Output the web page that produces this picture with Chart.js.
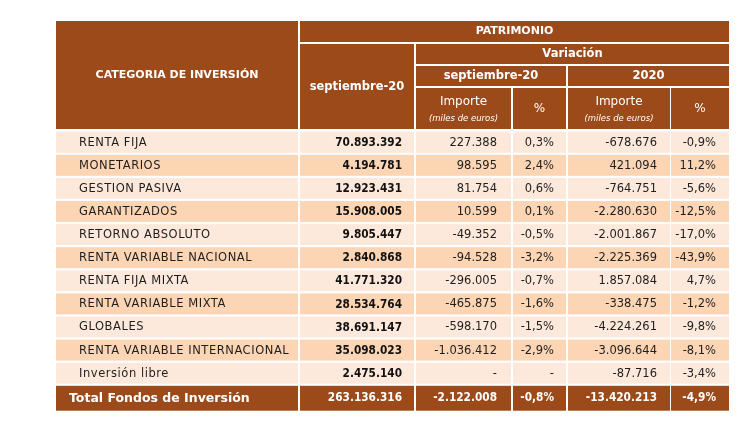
<!DOCTYPE html>
<html>
<head>
<meta charset="utf-8">
<script src="https://cdn.jsdelivr.net/npm/chart.js@4/dist/chart.umd.min.js"></script>
<style>
  html, body { margin: 0; padding: 0; background: #fff; }
  #wrap { width: 753px; height: 428px; }
</style>
</head>
<body>
<div id="wrap"><canvas id="tabla"></canvas></div>
<script>
// datos de la tabla
const categorias = [
    "RENTA FIJA",
    "MONETARIOS",
    "GESTION PASIVA",
    "GARANTIZADOS",
    "RETORNO ABSOLUTO",
    "RENTA VARIABLE NACIONAL",
    "RENTA FIJA MIXTA",
    "RENTA VARIABLE MIXTA",
    "GLOBALES",
    "RENTA VARIABLE INTERNACIONAL",
    "Inversión libre",
];
const patrimonio = [70893392, 4194781, 12923431, 15908005, 9805447, 2840868, 41771320, 28534764, 38691147, 35098023, 2475140];
const varSepImporte = [227388, 98595, 81754, 10599, -49352, -94528, -296005, -465875, -598170, -1036412, null];
const varSepPct = [0.3, 2.4, 0.6, 0.1, -0.5, -3.2, -0.7, -1.6, -1.5, -2.9, null];
const var2020Importe = [-678676, 421094, -764751, -2280630, -2001867, -2225369, 1857084, -338475, -4224261, -3096644, -87716];
const var2020Pct = [-0.9, 11.2, -5.6, -12.5, -17.0, -43.9, 4.7, -1.2, -9.8, -8.1, -3.4];
const totalLabel = "Total Fondos de Inversión";
const totales = [263136316, -2122008, -0.8, -13420213, -4.9];

// layout (coordenadas en unidades de las escalas)
const cols = [[56, 298], [300, 414], [416, 511], [513, 566], [568, 670], [671, 729]];
const headRows = [[21, 42], [44, 64], [66, 86], [88, 129]];
const firstRow = 131.7, rowPitch = 23.1, rowH = 21;
const totalRow = [385.8, 410.7];

const DARK = "#9c4a1a";
const LIGHT = "#fde9db";
const ALT = "#fcd5b4";
const FONT = '"DejaVu Sans", sans-serif';

function miles(n) {
    if (n === null) return "-";
    let s = Math.abs(n).toString().replace(/\B(?=(\d{3})+(?!\d))/g, ".");
    return (n < 0 ? "-" : "") + s;
}
function pct(n) {
    if (n === null) return "-";
    return n.toFixed(1).replace(".", ",") + "%";
}

const tablePlugin = {
    id: "tabla",
    afterDraw(chart) {
        const ctx = chart.ctx;
        const x = chart.scales.x, y = chart.scales.y;
        const px = (v) => x.getPixelForValue(v);
        const py = (v) => y.getPixelForValue(v);

        function cell(c0, c1, r0, r1, color) {
            ctx.fillStyle = color;
            ctx.fillRect(px(cols[c0][0]), py(r0), px(cols[c1][1]) - px(cols[c0][0]), py(r1) - py(r0));
        }
        function text(t, xx, yy, font, color, align, spacing, sx) {
            ctx.save();
            ctx.font = font;
            ctx.fillStyle = color;
            ctx.textAlign = align;
            ctx.textBaseline = "middle";
            ctx.letterSpacing = spacing || "0px";
            ctx.translate(xx, yy);
            ctx.scale(sx || 1, 1);
            ctx.fillText(t, 0, 0);
            ctx.restore();
        }
        const cx = (c0, c1) => (px(cols[c0][0]) + px(cols[c1][1])) / 2;
        const cy = (r0, r1) => (py(r0) + py(r1)) / 2;

        // cabecera
        cell(0, 0, headRows[0][0], headRows[3][1], DARK);
        cell(1, 5, headRows[0][0], headRows[0][1], DARK);
        cell(1, 1, headRows[1][0], headRows[3][1], DARK);
        cell(2, 5, headRows[1][0], headRows[1][1], DARK);
        cell(2, 3, headRows[2][0], headRows[2][1], DARK);
        cell(4, 5, headRows[2][0], headRows[2][1], DARK);
        for (let c = 2; c <= 5; c++) cell(c, c, headRows[3][0], headRows[3][1], DARK);

        const hb = "bold 11px " + FONT;
        text("CATEGORIA DE INVERSIÓN", cx(0, 0), cy(headRows[0][0], headRows[3][1]), hb, "#fff", "center");
        text("PATRIMONIO", cx(1, 5), cy(...headRows[0]), hb, "#fff", "center");
        text("septiembre-20", cx(1, 1), cy(headRows[1][0], headRows[3][1]) + 1, "bold 11.5px " + FONT, "#fff", "center");
        text("Variación", cx(2, 5), cy(...headRows[1]), "bold 11.5px " + FONT, "#fff", "center");
        text("septiembre-20", cx(2, 3), cy(...headRows[2]), "bold 11.5px " + FONT, "#fff", "center");
        text("2020", cx(4, 5), cy(...headRows[2]), "bold 11.5px " + FONT, "#fff", "center");
        [2, 4].forEach((c) => {
            text("Importe", cx(c, c), py(102), "12px " + FONT, "#fff", "center");
            text("(miles de euros)", cx(c, c), py(119), "italic 8.5px " + FONT, "#fff", "center");
        });
        [3, 5].forEach((c) => text("%", cx(c, c), py(109), "12px " + FONT, "#fff", "center"));

        // filas
        const nf = "11.5px " + FONT;
        const bf = "bold 12px " + FONT;
        categorias.forEach((cat, i) => {
            const r0 = firstRow + i * rowPitch, r1 = r0 + rowH;
            const bg = i % 2 === 0 ? LIGHT : ALT;
            for (let c = 0; c < cols.length; c++) cell(c, c, r0, r1, bg);
            const m = cy(r0, r1) + 0.5;
            text(cat, px(79), m, "11.5px " + FONT, "#1e1e1e", "left", "0.55px");
            text(miles(patrimonio[i]), px(402), m, bf, "#111", "right", "0px", 0.88);
            text(miles(varSepImporte[i]), px(497), m, nf, "#1e1e1e", "right");
            text(pct(varSepPct[i]), px(554), m, nf, "#1e1e1e", "right");
            text(miles(var2020Importe[i]), px(657), m, nf, "#1e1e1e", "right");
            text(pct(var2020Pct[i]), px(716), m, nf, "#1e1e1e", "right");
        });

        // total
        for (let c = 0; c < cols.length; c++) cell(c, c, totalRow[0], totalRow[1], DARK);
        const tm = cy(...totalRow);
        text(totalLabel, px(69), tm, "bold 12.5px " + FONT, "#fff", "left");
        const tf = "bold 12px " + FONT;
        text(miles(totales[0]), px(402), tm, tf, "#fff", "right", "0px", 0.88);
        text(miles(totales[1]), px(497), tm, tf, "#fff", "right", "0px", 0.88);
        text(pct(totales[2]), px(554), tm, tf, "#fff", "right", "0px", 0.88);
        text(miles(totales[3]), px(657), tm, tf, "#fff", "right", "0px", 0.88);
        text(pct(totales[4]), px(716), tm, tf, "#fff", "right", "0px", 0.88);
    },
};

new Chart(document.getElementById("tabla"), {
    type: "scatter",
    data: { datasets: [{ data: [] }] },
    options: {
        responsive: true,
        maintainAspectRatio: false,
        animation: false,
        layout: { padding: 0 },
        plugins: { legend: { display: false }, tooltip: { enabled: false } },
        scales: {
            x: { type: "linear", min: 0, max: 753, display: false },
            y: { type: "linear", min: 0, max: 428, reverse: true, display: false },
        },
    },
    plugins: [tablePlugin],
});
</script>
</body>
</html>
